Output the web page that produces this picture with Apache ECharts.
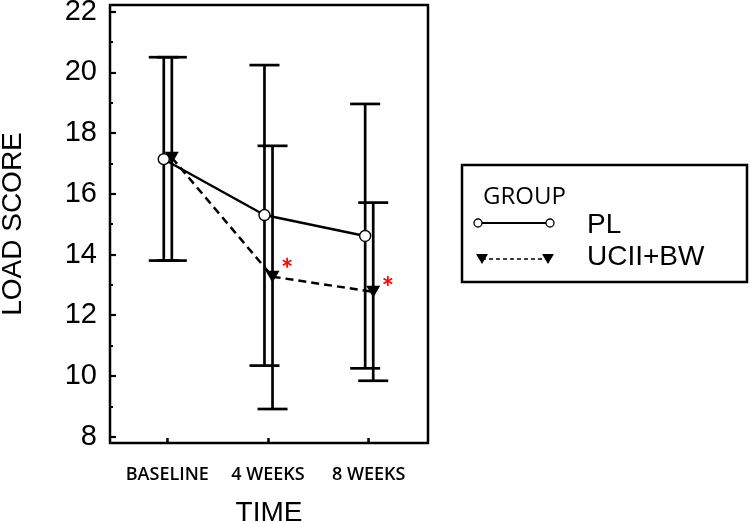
<!DOCTYPE html>
<html>
<head>
	<meta charset="utf-8">
	<title>Load score</title>
	<style>
		html, body { margin: 0; padding: 0; background: #fff; }
		#chart { width: 750px; height: 522px; }
	</style>
</head>
<body>
	<div id="chart"></div>
	<script src="https://cdn.jsdelivr.net/npm/echarts@6/dist/echarts.min.js"></script>
	<script type="text/javascript">
		// time points (x categories)
		var timeLabels = ['BASELINE', '4 WEEKS', '8 WEEKS'];
		var groupNames = ['PL', 'UCII+BW'];

		// means
		var plMean = [17.14, 15.30, 14.61];
		var ucMean = [17.19, 13.27, 12.77];
		// error bar ends
		var plLow = [13.80, 10.34, 10.25];
		var plHigh = [20.50, 20.24, 18.96];
		var ucLow = [13.80, 8.91, 9.84];
		var ucHigh = [20.50, 17.58, 15.71];

		// significance stars (time index, y value)
		var starIndex = [1, 2];
		var starY = [13.73, 13.13];

		var yTicks = [8, 10, 12, 14, 16, 18, 20, 22];
		var yMinorTicks = [9, 11, 13, 15, 17, 19, 21];

		var plShift = -0.035, ucShift = 0.045, starShift = 0.19;

		function pairs(vals, shift) {
			return vals.map(function (v, i) { return [i + shift, v]; });
		}
		function bars(lo, hi, shift) {
			return lo.map(function (v, i) { return [i + shift, v, hi[i]]; });
		}

		function renderErr(params, api) {
			var x = api.value(0);
			var a = api.coord([x, api.value(1)]);
			var b = api.coord([x, api.value(2)]);
			var half = 15;
			var st = { stroke: '#000', lineWidth: 2.7 };
			return {
				type: 'group',
				children: [
					{ type: 'line', shape: { x1: a[0], y1: a[1], x2: b[0], y2: b[1] }, style: st },
					{ type: 'line', shape: { x1: a[0] - half, y1: a[1], x2: a[0] + half, y2: a[1] }, style: st },
					{ type: 'line', shape: { x1: b[0] - half, y1: b[1], x2: b[0] + half, y2: b[1] }, style: st }
				]
			};
		}

		function renderStar(params, api) {
			var p = api.coord([api.value(0), api.value(1)]);
			var r = 5, kids = [];
			[90, 30, 150].forEach(function (deg) {
				var t = deg * Math.PI / 180;
				kids.push({
					type: 'line',
					shape: { x1: p[0] - r * Math.cos(t), y1: p[1] - r * Math.sin(t), x2: p[0] + r * Math.cos(t), y2: p[1] + r * Math.sin(t) },
					style: { stroke: '#ee1111', lineWidth: 1.8 }
				});
			});
			return { type: 'group', children: kids };
		}

		var chart = echarts.init(document.getElementById('chart'));

		var option = {
			animation: false,
			backgroundColor: '#fff',
			grid: {
				left: 110, top: 5, right: 322, bottom: 79,
				outerBoundsMode: 'none',
				containLabel: false,
				show: true, borderColor: '#000', borderWidth: 2.5
			},
			xAxis: {
				type: 'value',
				min: -0.569, max: 2.589,
				name: 'TIME',
				nameLocation: 'middle',
				nameGap: 56,
				nameTextStyle: { fontFamily: 'Liberation Sans', fontSize: 28, color: '#000' },
				splitLine: { show: false },
				axisLine: { show: false, onZero: false },
				axisTick: { show: true, inside: true, length: 5, customValues: [0, 1, 2], lineStyle: { color: '#000', width: 2.5 } },
				axisLabel: {
					customValues: [0, 1, 2],
					margin: 23,
					fontFamily: 'Open Sans', fontSize: 18, fontWeight: 600, color: '#000',
					formatter: function (v) { return timeLabels[Math.round(v)]; }
				}
			},
			yAxis: [{
				type: 'value',
				min: 7.79, max: 22.22,
				name: 'LOAD SCORE',
				nameLocation: 'middle',
				nameRotate: 90,
				nameGap: 83,
				nameTextStyle: { fontFamily: 'Liberation Sans', fontSize: 28, color: '#000' },
				splitLine: { show: false },
				axisLine: { show: false, onZero: false },
				axisTick: { show: true, inside: true, length: 6, customValues: yTicks, lineStyle: { color: '#000', width: 2.2 } },
				axisLabel: { customValues: yTicks, margin: 13, fontFamily: 'Liberation Sans', fontSize: 29, color: '#000' }
			}, {
				type: 'value',
				position: 'left',
				min: 7.79, max: 22.22,
				splitLine: { show: false },
				axisLine: { show: false, onZero: false },
				axisLabel: { show: false },
				axisTick: { show: true, inside: true, length: 3, customValues: yMinorTicks, lineStyle: { color: '#000', width: 2 } }
			}],
			graphic: [
				{ type: 'rect', shape: { x: 462, y: 165, width: 285, height: 117 }, style: { fill: '#fff', stroke: '#000', lineWidth: 2.5 } },
				{ type: 'text', x: 483, y: 197, style: { text: 'GROUP', fontFamily: 'Open Sans', fontSize: 24, fill: '#000', textVerticalAlign: 'middle' } },
				{ type: 'line', shape: { x1: 478, y1: 223, x2: 550, y2: 223 }, style: { stroke: '#000', lineWidth: 1.8 } },
				{ type: 'circle', shape: { cx: 478, cy: 223, r: 4 }, style: { fill: '#fff', stroke: '#000', lineWidth: 1.3 } },
				{ type: 'circle', shape: { cx: 550, cy: 223, r: 4 }, style: { fill: '#fff', stroke: '#000', lineWidth: 1.3 } },
				{ type: 'text', x: 587, y: 225, style: { text: groupNames[0], fontFamily: 'Liberation Sans', fontSize: 28, fill: '#000', textVerticalAlign: 'middle' } },
				{ type: 'line', shape: { x1: 482, y1: 259, x2: 548, y2: 259 }, style: { stroke: '#000', lineWidth: 1.6, lineDash: [4, 3] } },
				{ type: 'polygon', shape: { points: [[476, 254], [488, 254], [482, 264]] }, style: { fill: '#000' } },
				{ type: 'polygon', shape: { points: [[542, 254], [554, 254], [548, 264]] }, style: { fill: '#000' } },
				{ type: 'text', x: 587, y: 257, style: { text: groupNames[1], fontFamily: 'Liberation Sans', fontSize: 28, fill: '#000', textVerticalAlign: 'middle' } }
			],
			series: [{
				type: 'custom',
				renderItem: renderErr,
				data: bars(plLow, plHigh, plShift),
				z: 1
			}, {
				type: 'custom',
				renderItem: renderErr,
				data: bars(ucLow, ucHigh, ucShift),
				z: 1
			}, {
				name: groupNames[1],
				type: 'line',
				data: pairs(ucMean, ucShift),
				symbol: 'triangle',
				symbolRotate: 180,
				symbolSize: [14, 12],
				itemStyle: { color: '#000' },
				lineStyle: { color: '#000', width: 2.5, type: [8, 5] },
				z: 3
			}, {
				name: groupNames[0],
				type: 'line',
				data: pairs(plMean, plShift),
				symbol: 'circle',
				symbolSize: 11,
				itemStyle: { color: '#fff', borderColor: '#000', borderWidth: 1.4 },
				lineStyle: { color: '#000', width: 2.4 },
				z: 4
			}, {
				type: 'custom',
				renderItem: renderStar,
				data: starIndex.map(function (idx, k) { return [idx + starShift, starY[k]]; }),
				z: 5
			}]
		};

		chart.setOption(option);
	</script>
</body>
</html>
